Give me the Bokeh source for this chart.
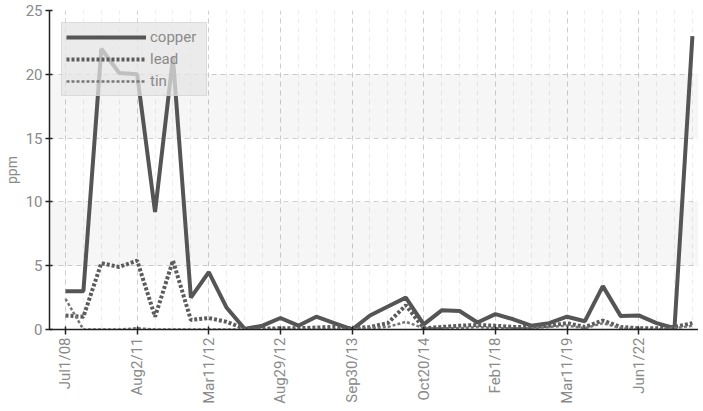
from math import pi
from bokeh.plotting import figure
from bokeh.models import Range1d, FixedTicker, BoxAnnotation, Legend, LegendItem
from bokeh.embed import file_html
from bokeh.resources import INLINE

# ---- data ----
tick_labels = ["Jul1/08", "Aug2/11", "Mar11/12", "Aug29/12", "Sep30/13",
               "Oct20/14", "Feb1/18", "Mar11/19", "Jun1/22"]
tick_every = 4
copper = [3.0, 3.0, 22.0, 20.1, 20.0, 9.2, 21.3, 2.5, 4.5, 1.7, 0.05, 0.3,
          0.9, 0.3, 1.0, 0.5, 0.0, 1.1, 1.8, 2.5, 0.4, 1.5, 1.45, 0.55,
          1.2, 0.8, 0.3, 0.5, 1.0, 0.65, 3.4, 1.05, 1.1, 0.5, 0.1, 23.0]
lead = [1.1, 1.0, 5.2, 4.9, 5.4, 1.0, 5.4, 0.75, 0.9, 0.6, 0.05, 0.05,
        0.1, 0.1, 0.15, 0.2, 0.1, 0.2, 0.5, 1.9, 0.1, 0.2, 0.3, 0.35,
        0.3, 0.2, 0.2, 0.3, 0.5, 0.2, 0.7, 0.2, 0.1, 0.1, 0.2, 0.5]
tin = [2.4, 0.0, 0.0, 0.0, 0.1, 0.0, 0.0, 0.0, 0.0, 0.0, 0.0, 0.0,
       0.0, 0.0, 0.0, 0.0, 0.05, 0.1, 0.2, 0.6, 0.1, 0.1, 0.1, 0.2,
       0.1, 0.1, 0.1, 0.2, 0.3, 0.1, 0.5, 0.1, 0.0, 0.0, 0.1, 0.3]
y_ticks = [0, 5, 10, 15, 20, 25]

x = list(range(len(copper)))
FONT = "Roboto"

p = figure(frame_width=649, frame_height=319, output_backend="svg", toolbar_location=None,
           x_range=Range1d(-0.893, 35.34), y_range=Range1d(0, 25),
           min_border_left=49, min_border_top=10, min_border_right=0,
           min_border_bottom=0)
p.outline_line_color = None
p.background_fill_color = "white"

# shaded bands
for b, t in [(5, 10), (15, 20)]:
    p.add_layout(BoxAnnotation(bottom=b, top=t, fill_color="black",
                               fill_alpha=0.035, line_color=None, level="underlay"))

r_cu = p.line(x, copper, line_color="#555555", line_width=4)
r_pb = p.line(x, lead, line_color="#5c5c5c", line_width=4, line_dash="3 2")
r_sn = p.line(x, tin, line_color="#777777", line_width=2.5, line_dash="3 2")

# axes
p.xaxis.ticker = FixedTicker(ticks=[i * tick_every for i in range(len(tick_labels))],
                             minor_ticks=x)
p.xaxis.major_label_overrides = {i * tick_every: lab for i, lab in enumerate(tick_labels)}
p.xaxis.major_label_orientation = pi / 2
p.yaxis.ticker = FixedTicker(ticks=y_ticks)
p.yaxis.axis_label = "ppm"

for ax in (p.xaxis, p.yaxis):
    ax.axis_line_color = "#222222"
    ax.axis_line_width = 1.5
    ax.major_tick_line_color = "#222222"
    ax.major_tick_line_width = 1.5
    ax.major_tick_in = 3
    ax.major_tick_out = 5
    ax.minor_tick_line_color = None
    ax.major_label_text_color = "#8a8a8a"
    ax.major_label_text_font = FONT
    ax.major_label_text_font_size = "15px"
    ax.major_label_standoff = 3
p.yaxis.major_tick_out = 4
p.yaxis.axis_label_text_font = FONT
p.yaxis.axis_label_text_font_size = "14px"
p.yaxis.axis_label_text_font_style = "normal"
p.yaxis.axis_label_text_color = "#8a8a8a"
p.yaxis.axis_label_standoff = 3

# grids
p.xgrid.grid_line_color = "#cfcfcf"
p.xgrid.grid_line_dash = "5 4"
p.xgrid.minor_grid_line_color = "#ececec"
p.xgrid.minor_grid_line_dash = "5 4"
p.ygrid.grid_line_color = "#cfcfcf"
p.ygrid.grid_line_dash = "5 4"

legend = Legend(items=[LegendItem(label="copper", renderers=[r_cu]),
                       LegendItem(label="lead", renderers=[r_pb]),
                       LegendItem(label="tin", renderers=[r_sn])],
                location="top_left")
legend.glyph_width = 80
legend.glyph_height = 20
legend.label_height = 20
legend.label_width = 52
legend.spacing = 2
legend.padding = 4
legend.margin = 12
legend.label_standoff = 4
legend.label_text_font = FONT
legend.label_text_font_size = "15px"
legend.label_text_color = "#8a8a8a"
legend.background_fill_color = "#e4e4e4"
legend.background_fill_alpha = 0.75
legend.border_line_color = "#cccccc"
p.add_layout(legend)

open("out.html", "w").write(file_html(p, INLINE))
